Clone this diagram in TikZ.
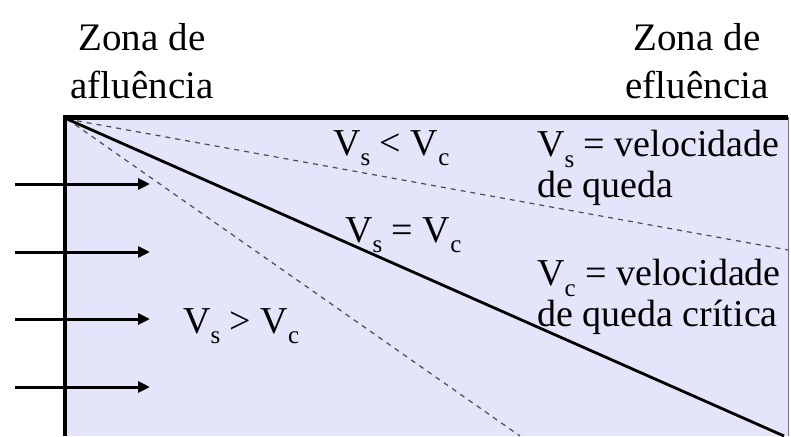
\documentclass[tikz,border=0pt]{standalone}
\usepackage{fontspec}
\setmainfont{Liberation Serif}
\usepackage{xcolor}
\usetikzlibrary{arrows.meta}

\definecolor{tanque}{RGB}{228,228,250}
\newcommand{\subv}[1]{\raisebox{-0.28em}{\fontsize{25}{25}\selectfont #1}}

\begin{document}
\begin{tikzpicture}[x=1pt,y=-1pt,
    zona/.style={align=center,inner sep=0pt,anchor=north,font=\fontsize{39}{48}\selectfont},
    rotulo/.style={inner sep=0pt,anchor=base west,font=\fontsize{38}{42}\selectfont},
    legenda/.style={align=left,inner sep=0pt,anchor=north west,font=\fontsize{38}{41}\selectfont},
    fluxo/.style={line width=3pt,-{Triangle[length=12pt,width=11pt]}},
    trajeto/.style={line width=1.2pt,black!70,dash pattern=on 5pt off 5pt}]
  \useasboundingbox (0,0) rectangle (791,436);
  % tanque
  \fill[tanque] (64,117) rectangle (788,436);
  \coordinate (o) at (67,119);
  \coordinate (lenta) at (788,250);
  \coordinate (critica) at (784,436);
  \coordinate (rapida) at (520,436);
  \draw[trajeto] (o) -- (lenta);
  \draw[trajeto] (o) -- (rapida);
  \draw[line width=2.8pt] (o) -- (critica);
  \draw[line width=4.5pt] (65,436) -- (65,117.5) -- (788,117.5);
  \draw[line width=0.6pt,black!55] (788,117) -- (788,436);
  % entrada
  \foreach \y/\n in {184/1,252/2,319/3,387/4} {
    \coordinate (e\n) at (15,\y);
    \coordinate (s\n) at (150,\y);
    \draw[fluxo] (e\n) -- (s\n);
  }
  % textos
  \node[zona] (afl) at (142,23) {Zona de\\afluência};
  \node[zona] (efl) at (697,23) {Zona de\\efluência};
  \node[rotulo] (menor) at (333,155) {V\subv{s} < V\subv{c}};
  \node[rotulo] (igual) at (345,242) {V\subv{s} = V\subv{c}};
  \node[rotulo] (maior) at (183,333) {V\subv{s} > V\subv{c}};
  \node[legenda] (vs) at (537,130) {V\subv{s} = velocidade\\de queda};
  \node[legenda] (vc) at (537,259) {V\subv{c} = velocidade\\de queda crítica};
\end{tikzpicture}
\end{document}
